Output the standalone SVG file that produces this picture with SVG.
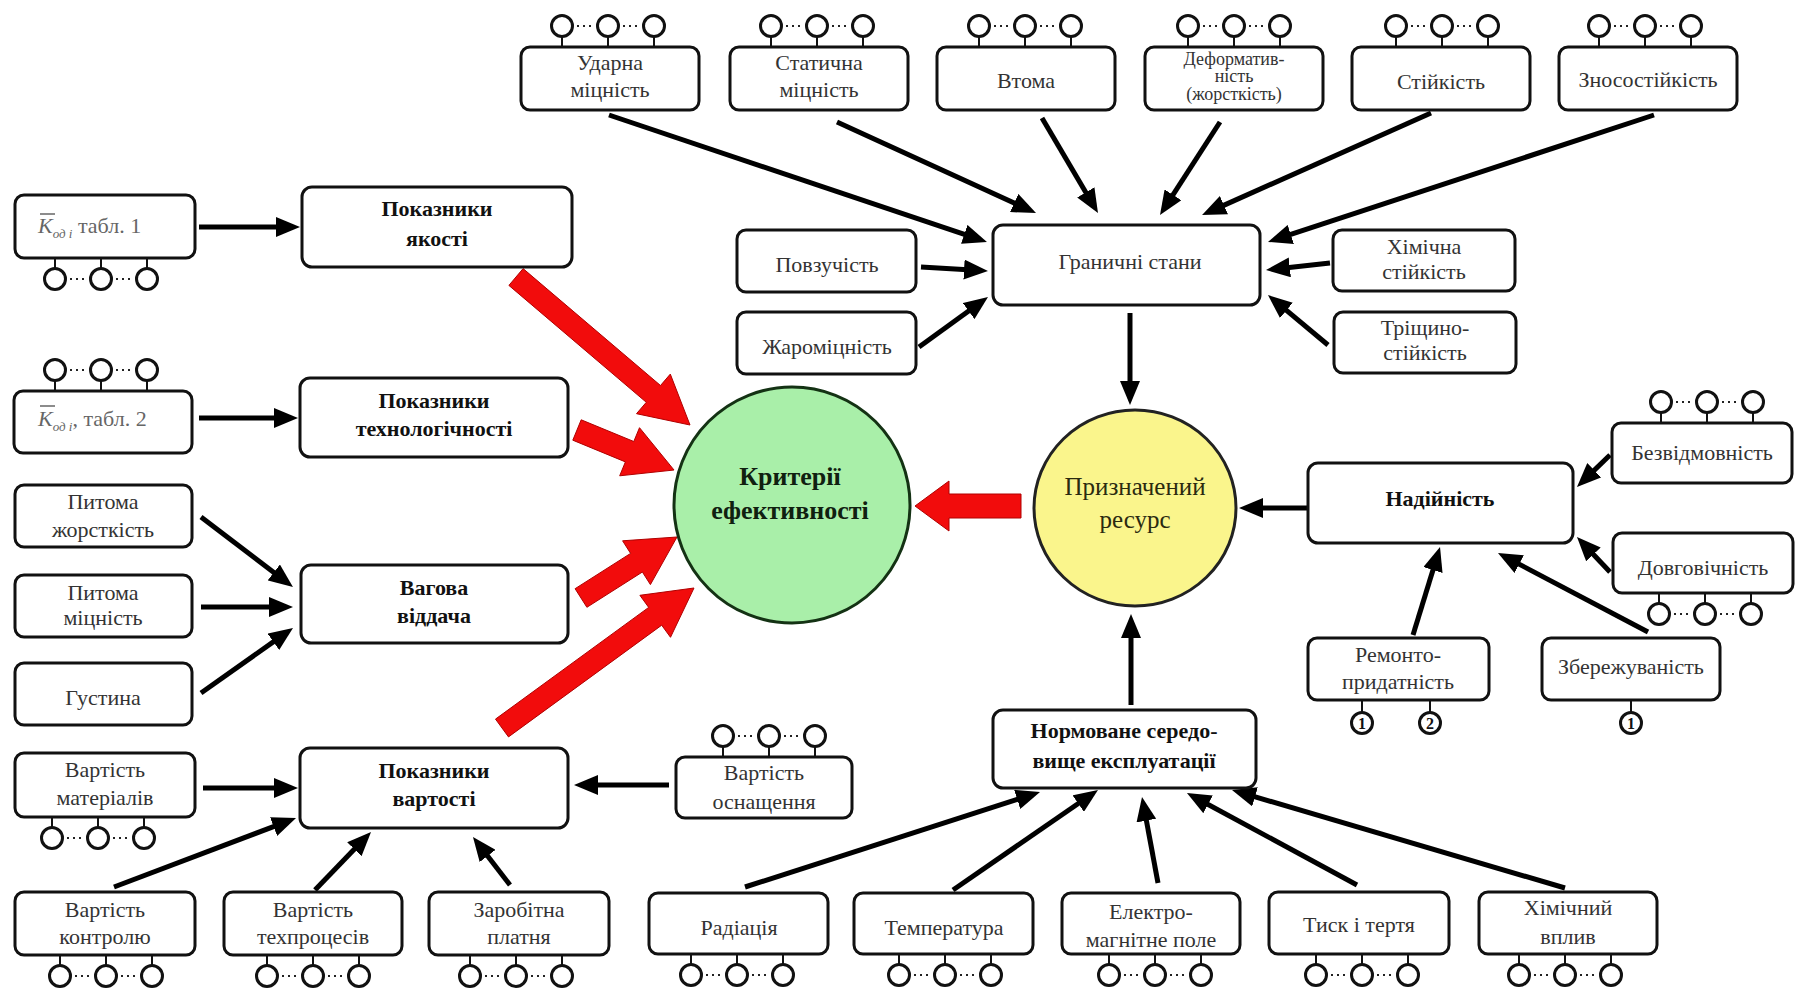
<svg xmlns="http://www.w3.org/2000/svg" xmlns:xlink="http://www.w3.org/1999/xlink" width="1798" height="997" viewBox="0 0 1798 997">
  <style>
    .box { fill: #fff; stroke: #111; stroke-width: 3; }
    .t { font-family: "Liberation Serif", "Times New Roman", serif; font-size: 22px; fill: #333; text-anchor: middle; }
    .b { font-weight: bold; fill: #111; }
    .k { fill: #666; text-anchor: start; }
    .con { stroke: #000; stroke-width: 5; fill: none; marker-end: url(#ah); }
    .red { fill: #f20c0c; stroke: #b00000; stroke-width: 1; }
    .pin { fill: #fff; stroke: #111; stroke-width: 3; }
    .stem { stroke: #111; stroke-width: 2; fill: none; }
    .dots { stroke: #222; stroke-width: 2; stroke-dasharray: 2 4; fill: none; }
  </style>
  <defs>
    <marker id="ah" viewBox="0 0 24 20" refX="12" refY="10" markerWidth="24" markerHeight="20" markerUnits="userSpaceOnUse" orient="auto">
      <path d="M0,0 L24,10 L0,20 z" fill="#000"/>
    </marker>
    <!-- three terminals above a box, stems pointing down -->
    <g id="pinsT">
      <path class="stem" d="M0,10.5V21 M46,10.5V21 M92,10.5V21"/>
      <path class="dots" d="M15,0H31 M61,0H77"/>
      <circle class="pin" cx="0" cy="0" r="10.5"/>
      <circle class="pin" cx="46" cy="0" r="10.5"/>
      <circle class="pin" cx="92" cy="0" r="10.5"/>
    </g>
    <!-- three terminals below a box, stems pointing up -->
    <g id="pinsB">
      <path class="stem" d="M0,-10.5V-21 M46,-10.5V-21 M92,-10.5V-21"/>
      <path class="dots" d="M15,0H31 M61,0H77"/>
      <circle class="pin" cx="0" cy="0" r="10.5"/>
      <circle class="pin" cx="46" cy="0" r="10.5"/>
      <circle class="pin" cx="92" cy="0" r="10.5"/>
    </g>
  </defs>

  <rect width="1798" height="997" fill="#fff"/>

  <!-- connectors -->
  <g id="connectors">
    <line class="con" x1="609" y1="115" x2="975.6" y2="238.2"/>
    <line class="con" x1="837" y1="122" x2="1025.1" y2="208"/>
    <line class="con" x1="1042" y1="118" x2="1091.9" y2="202.7"/>
    <line class="con" x1="1220" y1="122" x2="1166.5" y2="204.9"/>
    <line class="con" x1="1431" y1="113" x2="1213" y2="210.1"/>
    <line class="con" x1="1654" y1="115" x2="1279.4" y2="238.2"/>
    <line class="con" x1="921" y1="267" x2="976" y2="270.3"/>
    <line class="con" x1="919" y1="347" x2="978.3" y2="304"/>
    <line class="con" x1="1330" y1="263" x2="1277.9" y2="268.7"/>
    <line class="con" x1="1328" y1="345" x2="1277.2" y2="302.7"/>
    <line class="con" x1="1130" y1="313" x2="1130" y2="393"/>

    <line class="con" x1="199" y1="227" x2="288" y2="227"/>
    <line class="con" x1="199" y1="418" x2="286" y2="418"/>
    <line class="con" x1="201" y1="517" x2="283.4" y2="579.7"/>
    <line class="con" x1="201" y1="607" x2="281" y2="607"/>
    <line class="con" x1="201" y1="693" x2="283.2" y2="634.9"/>
    <line class="con" x1="203" y1="788" x2="286" y2="788"/>
    <line class="con" x1="114" y1="887" x2="284.8" y2="822.3"/>
    <line class="con" x1="315" y1="890" x2="362.7" y2="840.6"/>
    <line class="con" x1="510" y1="885" x2="480.3" y2="846.5"/>
    <line class="con" x1="669" y1="785" x2="586" y2="785"/>

    <line class="con" x1="745" y1="887" x2="1028.6" y2="795.7"/>
    <line class="con" x1="953" y1="890" x2="1088.1" y2="796.8"/>
    <line class="con" x1="1158" y1="883" x2="1144.2" y2="808.8"/>
    <line class="con" x1="1357" y1="885" x2="1197.5" y2="798.7"/>
    <line class="con" x1="1565" y1="888" x2="1243.5" y2="793.4"/>
    <line class="con" x1="1131" y1="705" x2="1131" y2="626"/>

    <line class="con" x1="1308" y1="508" x2="1251" y2="508"/>
    <line class="con" x1="1610" y1="455" x2="1585.6" y2="478.6"/>
    <line class="con" x1="1610" y1="572" x2="1585.2" y2="545.7"/>
    <line class="con" x1="1413" y1="635" x2="1436.5" y2="558.5"/>
    <line class="con" x1="1648" y1="632" x2="1508.6" y2="558.6"/>

    <!-- block arrows into the efficiency criteria -->
    <polygon class="red" points="508.9,285.4 646.3,402.3 636.5,413.7 690,425 670.3,374.1 660.5,385.5 523.1,268.6"/>
    <polygon class="red" points="572.8,440.2 625.4,461.9 619.7,475.8 674,470 639.5,427.7 633.8,441.5 581.2,419.8"/>
    <polygon class="red" points="586.9,607.3 642.4,572 650.4,584.6 677,537 622.6,540.8 630.6,553.4 575.1,588.7"/>
    <polygon class="red" points="508.5,736.9 661.7,625.2 670.5,637.3 694,588 639.9,595.3 648.7,607.4 495.5,719.1"/>
    <polygon class="red" points="1021,494 949,494 949,481 915,506 949,531 949,518 1021,518"/>
  </g>

  <!-- limit-state properties (top row) -->
  <g id="n-udarna">
    <use xlink:href="#pinsT" x="562" y="26"/>
    <rect class="box" x="521" y="47" width="178" height="63" rx="9"/>
    <text class="t" x="610" y="70">Ударна</text>
    <text class="t" x="610" y="97">міцність</text>
  </g>
  <g id="n-statychna">
    <use xlink:href="#pinsT" x="771" y="26"/>
    <rect class="box" x="730" y="47" width="178" height="63" rx="9"/>
    <text class="t" x="819" y="70">Статична</text>
    <text class="t" x="819" y="97">міцність</text>
  </g>
  <g id="n-vtoma">
    <use xlink:href="#pinsT" x="979" y="26"/>
    <rect class="box" x="937" y="47" width="178" height="63" rx="9"/>
    <text class="t" x="1026" y="88">Втома</text>
  </g>
  <g id="n-deform">
    <use xlink:href="#pinsT" x="1188" y="26"/>
    <rect class="box" x="1145" y="47" width="178" height="63" rx="9"/>
    <text class="t" x="1234" y="65" style="font-size:18px">Деформатив-</text>
    <text class="t" x="1234" y="82" style="font-size:18px">ність</text>
    <text class="t" x="1234" y="100" style="font-size:18px">(жорсткість)</text>
  </g>
  <g id="n-stiikist">
    <use xlink:href="#pinsT" x="1396" y="26"/>
    <rect class="box" x="1352" y="47" width="178" height="63" rx="9"/>
    <text class="t" x="1441" y="89">Стійкість</text>
  </g>
  <g id="n-znos">
    <use xlink:href="#pinsT" x="1599" y="26"/>
    <rect class="box" x="1559" y="47" width="178" height="63" rx="9"/>
    <text class="t" x="1648" y="87">Зносостійкість</text>
  </g>

  <g id="n-granychni">
    <rect class="box" x="993" y="225" width="267" height="80" rx="10"/>
    <text class="t" x="1130" y="269">Граничні стани</text>
  </g>
  <g id="n-povzuchist">
    <rect class="box" x="737" y="230" width="179" height="62" rx="9"/>
    <text class="t" x="827" y="272">Повзучість</text>
  </g>
  <g id="n-zharomitsnist">
    <rect class="box" x="737" y="312" width="179" height="62" rx="9"/>
    <text class="t" x="827" y="354">Жароміцність</text>
  </g>
  <g id="n-khimichna">
    <rect class="box" x="1333" y="230" width="182" height="61" rx="9"/>
    <text class="t" x="1424" y="254">Хімічна</text>
    <text class="t" x="1424" y="279">стійкість</text>
  </g>
  <g id="n-trishchyno">
    <rect class="box" x="1334" y="312" width="182" height="61" rx="9"/>
    <text class="t" x="1425" y="335">Тріщино-</text>
    <text class="t" x="1425" y="360">стійкість</text>
  </g>

  <!-- left column -->
  <g id="n-k1">
    <rect class="box" x="15" y="195" width="180" height="63" rx="9"/>
    <line x1="40" y1="214" x2="55" y2="214" stroke="#666" stroke-width="1.5"/>
    <text class="t k" x="38" y="233"><tspan font-style="italic">K</tspan><tspan font-style="italic" font-size="13" dy="5">од i</tspan><tspan dy="-5">  табл. 1</tspan></text>
    <use xlink:href="#pinsB" x="55" y="279"/>
  </g>
  <g id="n-pokaznyky-yakosti">
    <rect class="box" x="302" y="187" width="270" height="80" rx="10"/>
    <text class="t b" x="437" y="216">Показники</text>
    <text class="t b" x="437" y="246">якості</text>
  </g>
  <g id="n-k2">
    <use xlink:href="#pinsT" x="55" y="370"/>
    <rect class="box" x="14" y="391" width="178" height="62" rx="9"/>
    <line x1="40" y1="406" x2="55" y2="406" stroke="#666" stroke-width="1.5"/>
    <text class="t k" x="38" y="426"><tspan font-style="italic">K</tspan><tspan font-style="italic" font-size="13" dy="5">од i</tspan><tspan dy="-5">, табл. 2</tspan></text>
  </g>
  <g id="n-pokaznyky-tekhn">
    <rect class="box" x="300" y="378" width="268" height="79" rx="10"/>
    <text class="t b" x="434" y="408">Показники</text>
    <text class="t b" x="434" y="436">технологічності</text>
  </g>
  <g id="n-pytoma-zhorst">
    <rect class="box" x="15" y="485" width="177" height="62" rx="9"/>
    <text class="t" x="103" y="509">Питома</text>
    <text class="t" x="103" y="537">жорсткість</text>
  </g>
  <g id="n-pytoma-mitsn">
    <rect class="box" x="15" y="575" width="177" height="62" rx="9"/>
    <text class="t" x="103" y="600">Питома</text>
    <text class="t" x="103" y="625">міцність</text>
  </g>
  <g id="n-hustyna">
    <rect class="box" x="15" y="663" width="177" height="62" rx="9"/>
    <text class="t" x="103" y="705">Густина</text>
  </g>
  <g id="n-vahova">
    <rect class="box" x="301" y="565" width="267" height="78" rx="10"/>
    <text class="t b" x="434" y="595">Вагова</text>
    <text class="t b" x="434" y="623">віддача</text>
  </g>
  <g id="n-vart-mater">
    <rect class="box" x="15" y="753" width="180" height="64" rx="9"/>
    <text class="t" x="105" y="777">Вартість</text>
    <text class="t" x="105" y="805">матеріалів</text>
    <use xlink:href="#pinsB" x="52" y="838"/>
  </g>
  <g id="n-pokaznyky-vart">
    <rect class="box" x="300" y="748" width="268" height="80" rx="10"/>
    <text class="t b" x="434" y="778">Показники</text>
    <text class="t b" x="434" y="806">вартості</text>
  </g>
  <g id="n-vart-kontr">
    <rect class="box" x="15" y="892" width="180" height="63" rx="9"/>
    <text class="t" x="105" y="917">Вартість</text>
    <text class="t" x="105" y="944">контролю</text>
    <use xlink:href="#pinsB" x="60" y="976"/>
  </g>
  <g id="n-vart-tekhpr">
    <rect class="box" x="224" y="892" width="178" height="63" rx="9"/>
    <text class="t" x="313" y="917">Вартість</text>
    <text class="t" x="313" y="944">техпроцесів</text>
    <use xlink:href="#pinsB" x="267" y="976"/>
  </g>
  <g id="n-zarobitna">
    <rect class="box" x="429" y="892" width="180" height="63" rx="9"/>
    <text class="t" x="519" y="917">Заробітна</text>
    <text class="t" x="519" y="944">платня</text>
    <use xlink:href="#pinsB" x="470" y="976"/>
  </g>
  <g id="n-vart-osnashch">
    <use xlink:href="#pinsT" x="723" y="736"/>
    <rect class="box" x="676" y="757" width="176" height="61" rx="9"/>
    <text class="t" x="764" y="780">Вартість</text>
    <text class="t" x="764" y="809">оснащення</text>
  </g>

  <!-- central criteria -->
  <g id="n-kryterii">
    <ellipse cx="792" cy="505" rx="118" ry="118" fill="#a9efa9" stroke="#143214" stroke-width="3"/>
    <text class="t b" x="790" y="485" style="font-size:26px;fill:#102010">Критерії</text>
    <text class="t b" x="790" y="519" style="font-size:26px;fill:#102010">ефективності</text>
  </g>
  <g id="n-pryznachenyi">
    <ellipse cx="1135" cy="508" rx="101" ry="98" fill="#faf58c" stroke="#222" stroke-width="3"/>
    <text class="t" x="1135" y="495" style="font-size:25px;fill:#2a2a10">Призначений</text>
    <text class="t" x="1135" y="528" style="font-size:25px;fill:#2a2a10">ресурс</text>
  </g>

  <!-- reliability -->
  <g id="n-nadiinist">
    <rect class="box" x="1308" y="463" width="265" height="80" rx="10"/>
    <text class="t b" x="1440" y="506">Надійність</text>
  </g>
  <g id="n-bezvidmovnist">
    <use xlink:href="#pinsT" x="1661" y="402"/>
    <rect class="box" x="1612" y="423" width="180" height="60" rx="9"/>
    <text class="t" x="1702" y="460">Безвідмовність</text>
  </g>
  <g id="n-dovhovichnist">
    <rect class="box" x="1613" y="533" width="180" height="60" rx="9"/>
    <text class="t" x="1703" y="575">Довговічність</text>
    <use xlink:href="#pinsB" x="1659" y="614"/>
  </g>
  <g id="n-remonto">
    <rect class="box" x="1308" y="638" width="181" height="62" rx="9"/>
    <text class="t" x="1398" y="662">Ремонто-</text>
    <text class="t" x="1398" y="689">придатність</text>
    <path class="stem" d="M1362,700V712 M1430,700V712"/>
    <circle class="pin" cx="1362" cy="723" r="10.5"/>
    <circle class="pin" cx="1430" cy="723" r="10.5"/>
    <text class="t b" x="1362" y="729" style="font-size:16px">1</text>
    <text class="t b" x="1430" y="729" style="font-size:16px">2</text>
  </g>
  <g id="n-zberezh">
    <rect class="box" x="1542" y="638" width="178" height="62" rx="9"/>
    <text class="t" x="1631" y="674">Збережуваність</text>
    <path class="stem" d="M1631,700V712"/>
    <circle class="pin" cx="1631" cy="723" r="10.5"/>
    <text class="t b" x="1631" y="729" style="font-size:16px">1</text>
  </g>

  <!-- operating environment -->
  <g id="n-normovane">
    <rect class="box" x="993" y="710" width="263" height="78" rx="10"/>
    <text class="t b" x="1124" y="738">Нормоване середо-</text>
    <text class="t b" x="1124" y="768">вище експлуатації</text>
  </g>
  <g id="n-radiatsiia">
    <rect class="box" x="649" y="893" width="179" height="61" rx="9"/>
    <text class="t" x="739" y="935">Радіація</text>
    <use xlink:href="#pinsB" x="691" y="975"/>
  </g>
  <g id="n-temperatura">
    <rect class="box" x="854" y="893" width="179" height="61" rx="9"/>
    <text class="t" x="944" y="935">Температура</text>
    <use xlink:href="#pinsB" x="899" y="975"/>
  </g>
  <g id="n-elektro">
    <rect class="box" x="1062" y="893" width="178" height="61" rx="9"/>
    <text class="t" x="1151" y="919">Електро-</text>
    <text class="t" x="1151" y="947">магнітне поле</text>
    <use xlink:href="#pinsB" x="1109" y="975"/>
  </g>
  <g id="n-tysk">
    <rect class="box" x="1269" y="892" width="180" height="62" rx="9"/>
    <text class="t" x="1359" y="932">Тиск і тертя</text>
    <use xlink:href="#pinsB" x="1316" y="975"/>
  </g>
  <g id="n-khimichnyi">
    <rect class="box" x="1479" y="892" width="178" height="62" rx="9"/>
    <text class="t" x="1568" y="915">Хімічний</text>
    <text class="t" x="1568" y="944">вплив</text>
    <use xlink:href="#pinsB" x="1519" y="975"/>
  </g>
</svg>
